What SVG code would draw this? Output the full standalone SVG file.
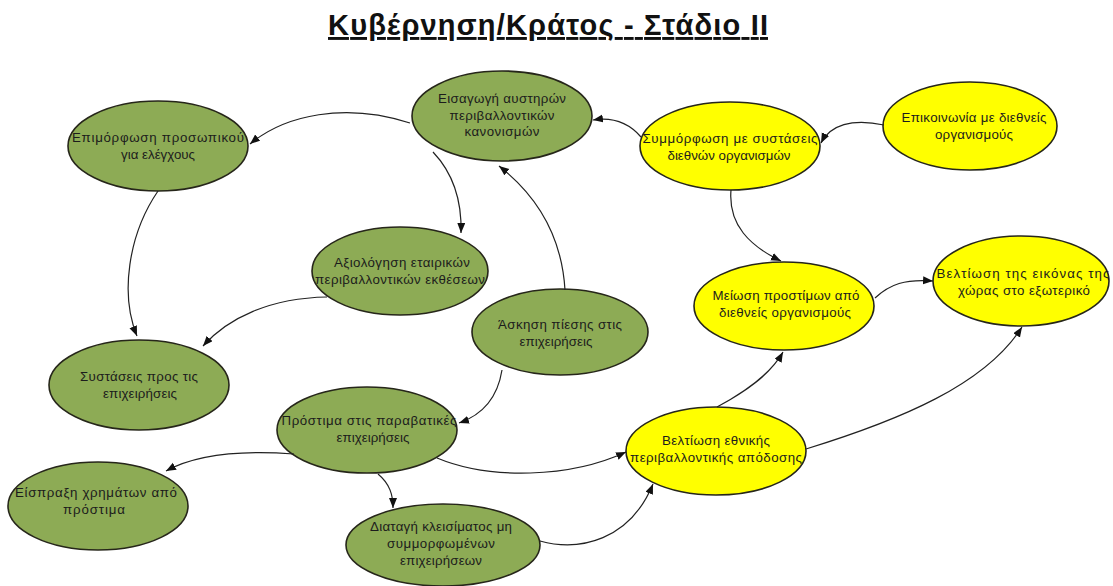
<svg xmlns="http://www.w3.org/2000/svg" width="1113" height="586" viewBox="0 0 1113 586">
  <style>
    .bg { fill: #ffffff; }
    .title { font-family: "Liberation Sans", Arial, sans-serif; font-size: 29px; font-weight: bold; fill: #111111; text-decoration: underline; }
    .node ellipse { stroke: #26261a; stroke-width: 1.6; }
    .green ellipse { fill: #8dab55; }
    .yellow ellipse { fill: #ffff00; }
    .node text { font-family: "Liberation Sans", Arial, sans-serif; font-size: 13.3px; fill: #1c1c1c; text-anchor: middle; }
    .edge { fill: none; stroke: #222222; stroke-width: 1.2; marker-end: url(#arrow); }
  </style>
  <defs>
    <marker id="arrow" markerUnits="userSpaceOnUse" markerWidth="11" markerHeight="9" refX="10" refY="4" orient="auto">
      <path d="M0,0 L10,4 L0,8 z" fill="#111111"/>
    </marker>
  </defs>

  <rect class="bg" x="0" y="0" width="1113" height="586"/>

  <text class="title" x="548" y="35" text-anchor="middle" textLength="440" lengthAdjust="spacing">Κυβέρνηση/Κράτος - Στάδιο ΙΙ</text>

  <!-- government actions (green) -->
  <g id="n-training" class="node green">
    <ellipse cx="158" cy="146" rx="90" ry="45"/>
    <text x="158" y="142" textLength="172" lengthAdjust="spacing">Επιμόρφωση προσωπικού</text>
    <text x="158" y="159" textLength="74" lengthAdjust="spacing">για ελέγχους</text>
  </g>
  <g id="n-regulations" class="node green">
    <ellipse cx="502" cy="116" rx="90" ry="45"/>
    <text x="502" y="103" textLength="128" lengthAdjust="spacing">Εισαγωγή αυστηρών</text>
    <text x="502" y="120" textLength="105" lengthAdjust="spacing">περιβαλλοντικών</text>
    <text x="502" y="136" textLength="75" lengthAdjust="spacing">κανονισμών</text>
  </g>
  <g id="n-assessment" class="node green">
    <ellipse cx="400" cy="271" rx="88" ry="44"/>
    <text x="402" y="267" textLength="136" lengthAdjust="spacing">Αξιολόγηση εταιρικών</text>
    <text x="400" y="284" textLength="170" lengthAdjust="spacing">περιβαλλοντικών εκθέσεων</text>
  </g>
  <g id="n-pressure" class="node green">
    <ellipse cx="560" cy="332" rx="88" ry="43"/>
    <text x="560" y="329" textLength="124" lengthAdjust="spacing">Άσκηση πίεσης στις</text>
    <text x="556" y="346" textLength="73" lengthAdjust="spacing">επιχειρήσεις</text>
  </g>
  <g id="n-recommend" class="node green">
    <ellipse cx="139" cy="385" rx="90" ry="45"/>
    <text x="139" y="381" textLength="118" lengthAdjust="spacing">Συστάσεις προς τις</text>
    <text x="140" y="398" textLength="74" lengthAdjust="spacing">επιχειρήσεις</text>
  </g>
  <g id="n-fines" class="node green">
    <ellipse cx="367" cy="430" rx="90" ry="43"/>
    <text x="369" y="425" textLength="175" lengthAdjust="spacing">Πρόστιμα στις παραβατικές</text>
    <text x="373" y="442" textLength="73" lengthAdjust="spacing">επιχειρήσεις</text>
  </g>
  <g id="n-collect" class="node green">
    <ellipse cx="98" cy="506" rx="90" ry="44"/>
    <text x="96" y="497" textLength="162" lengthAdjust="spacing">Είσπραξη χρημάτων από</text>
    <text x="94" y="514" textLength="62" lengthAdjust="spacing">πρόστιμα</text>
  </g>
  <g id="n-closure" class="node green">
    <ellipse cx="443" cy="545" rx="97" ry="41"/>
    <text x="441" y="531" textLength="142" lengthAdjust="spacing">Διαταγή κλεισίματος μη</text>
    <text x="441" y="548" textLength="108" lengthAdjust="spacing">συμμορφωμένων</text>
    <text x="441" y="565" textLength="82" lengthAdjust="spacing">επιχειρήσεων</text>
  </g>

  <!-- international side and outcomes (yellow) -->
  <g id="n-compliance" class="node yellow">
    <ellipse cx="730" cy="146" rx="90" ry="44"/>
    <text x="730" y="143" textLength="175" lengthAdjust="spacing">Συμμόρφωση με συστάσεις</text>
    <text x="729" y="160" textLength="123" lengthAdjust="spacing">διεθνών οργανισμών</text>
  </g>
  <g id="n-contact" class="node yellow">
    <ellipse cx="970" cy="126" rx="87" ry="44"/>
    <text x="974" y="122" textLength="145" lengthAdjust="spacing">Επικοινωνία με διεθνείς</text>
    <text x="974" y="139" textLength="78" lengthAdjust="spacing">οργανισμούς</text>
  </g>
  <g id="n-reduce" class="node yellow">
    <ellipse cx="784" cy="306" rx="90" ry="44"/>
    <text x="786" y="300" textLength="147" lengthAdjust="spacing">Μείωση προστίμων από</text>
    <text x="785" y="317" textLength="132" lengthAdjust="spacing">διεθνείς οργανισμούς</text>
  </g>
  <g id="n-image" class="node yellow">
    <ellipse cx="1021" cy="281" rx="88" ry="45"/>
    <text x="1023" y="278" textLength="173" lengthAdjust="spacing">Βελτίωση της εικόνας της</text>
    <text x="1024" y="295" textLength="132" lengthAdjust="spacing">χώρας στο εξωτερικό</text>
  </g>
  <g id="n-national" class="node yellow">
    <ellipse cx="716" cy="451" rx="90" ry="44"/>
    <text x="716" y="445" textLength="108" lengthAdjust="spacing">Βελτίωση εθνικής</text>
    <text x="716" y="462" textLength="172" lengthAdjust="spacing">περιβαλλοντικής απόδοσης</text>
  </g>

  <!-- connectors -->
  <g id="connectors">
    <path class="edge" d="M 410 123 C 345 102, 285 115, 250 144"/>
    <path class="edge" d="M 433 152 C 452 172, 462 200, 461 233"/>
    <path class="edge" d="M 158 191 C 128 235, 120 295, 137 336"/>
    <path class="edge" d="M 327 297 C 270 298, 228 318, 203 346"/>
    <path class="edge" d="M 565 290 C 562 240, 540 198, 499 166"/>
    <path class="edge" d="M 502 370 C 498 395, 485 414, 459 423"/>
    <path class="edge" d="M 641 137 C 628 122, 612 117, 593 120"/>
    <path class="edge" d="M 884 125 C 852 118, 830 125, 821 143"/>
    <path class="edge" d="M 731 190 C 728 225, 750 246, 781 261"/>
    <path class="edge" d="M 875 298 C 890 284, 905 279, 933 281"/>
    <path class="edge" d="M 717 407 C 745 392, 770 375, 783 352"/>
    <path class="edge" d="M 806 449 C 900 420, 985 385, 1022 327"/>
    <path class="edge" d="M 437 458 C 490 480, 570 478, 626 452"/>
    <path class="edge" d="M 294 454 C 240 450, 195 455, 166 471"/>
    <path class="edge" d="M 378 474 C 390 484, 393 495, 393 508"/>
    <path class="edge" d="M 540 541 C 580 552, 630 540, 653 484"/>
  </g>
</svg>
